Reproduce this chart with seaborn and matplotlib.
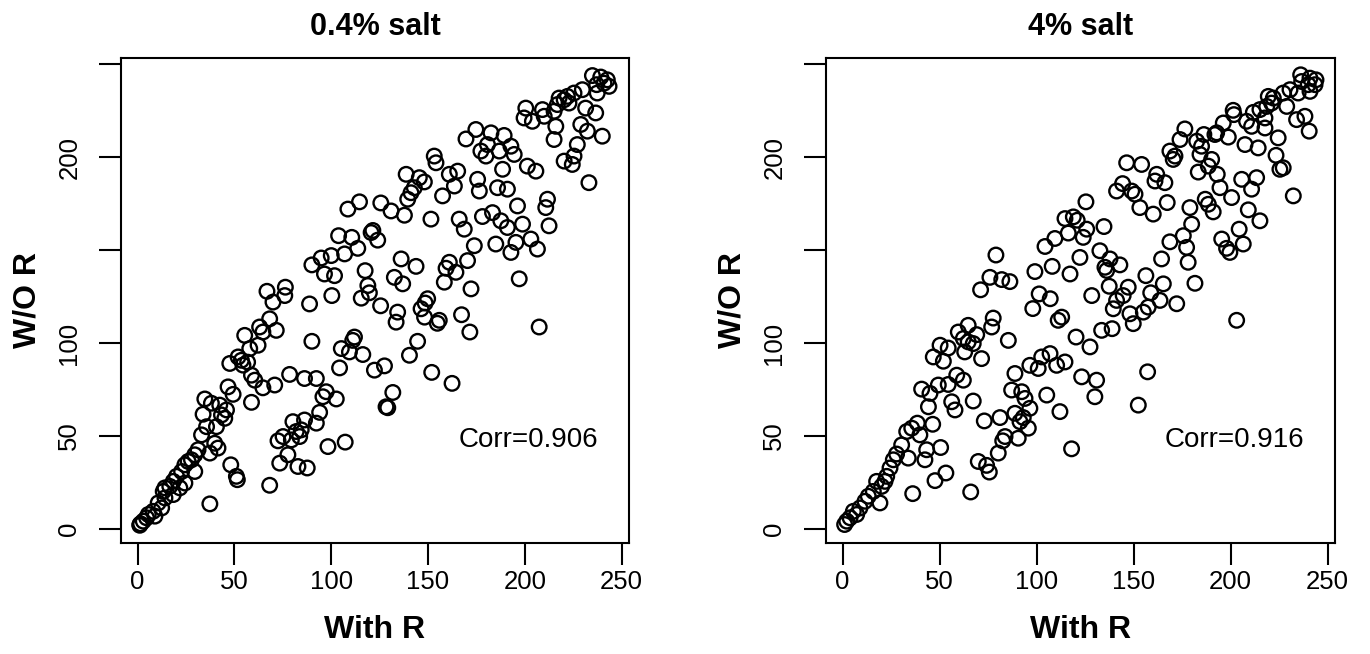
import numpy as np
import pandas as pd
import matplotlib
matplotlib.use("Agg")
import matplotlib.pyplot as plt
import seaborn as sns

# === data: (With R, W/O R) ===
low_salt = [
    (234.9, 243.8), (239.2, 243.0), (242.6, 241.5), (243.5, 238.0), (240.9, 239.7), (237.1, 238.9),
    (237.4, 234.4), (229.7, 236.2), (225.4, 234.4), (222.0, 232.6), (220.3, 230.8), (217.7, 231.7),
    (222.8, 229.0), (216.8, 228.2), (231.4, 226.3), (236.6, 223.7), (215.1, 224.6), (200.5, 226.3),
    (209.1, 225.5), (199.6, 221.0), (203.9, 219.2), (210.0, 221.9), (216.0, 216.5), (215.1, 209.4),
    (228.9, 217.5), (232.3, 213.9), (240.0, 211.2), (227.1, 206.7), (225.4, 200.5), (220.3, 197.8),
    (224.5, 196.0), (233.1, 186.2),
    (174.7, 214.8), (169.6, 209.7), (182.5, 213.0), (189.3, 211.6), (180.7, 206.7), (177.3, 203.2),
    (179.9, 200.5), (186.8, 203.2), (192.8, 205.8), (194.5, 201.4), (188.5, 193.4), (201.3, 195.1),
    (205.7, 192.4), (153.2, 200.5), (154.1, 196.9), (138.7, 190.7), (145.5, 188.9), (148.1, 186.6),
    (142.9, 183.5), (141.2, 180.8), (139.5, 177.3), (161.0, 190.7), (165.3, 192.4), (163.6, 184.4),
    (157.5, 179.1), (175.6, 188.0), (176.5, 181.7), (185.9, 183.5), (191.0, 182.7), (125.6, 175.3),
    (130.9, 171.0), (137.8, 168.7), (151.5, 166.6), (166.1, 166.6), (168.7, 161.2), (178.1, 168.0),
    (183.3, 170.1), (187.6, 165.7), (191.0, 162.1), (196.2, 173.7), (198.8, 163.9), (211.7, 177.3),
    (210.8, 172.8), (212.5, 163.0), (173.9, 152.3), (185.0, 153.2), (192.8, 148.7), (195.4, 154.1),
    (203.1, 155.9), (206.5, 150.5), (136.1, 145.2), (143.8, 141.2), (161.0, 143.4), (159.3, 140.2),
    (164.4, 138.0), (170.4, 144.3), (132.6, 135.3), (136.9, 131.8), (158.4, 132.7), (172.2, 129.1),
    (197.1, 134.5), (149.8, 123.8), (148.5, 121.5),
    (114.6, 175.9), (108.6, 172.0), (103.8, 157.7), (110.6, 156.8), (113.7, 150.9), (106.9, 147.9),
    (100.0, 147.0), (94.8, 145.7), (90.0, 142.0), (96.5, 137.1), (101.7, 136.2), (120.6, 159.4),
    (121.5, 160.5), (124.0, 155.3), (117.5, 138.9), (118.9, 130.9), (119.7, 127.0), (115.5, 124.1),
    (100.3, 125.5), (76.3, 130.0), (66.8, 127.8), (76.0, 125.5), (69.9, 122.0), (88.8, 121.0),
    (125.5, 120.0),
    (68.2, 113.0), (63.0, 108.6), (71.6, 106.8), (55.3, 104.1), (64.7, 105.9), (62.2, 98.8),
    (57.9, 97.0), (90.0, 100.9), (112.0, 103.2), (111.1, 101.4), (105.2, 97.0), (109.4, 95.2),
    (116.3, 93.8), (127.5, 87.7), (122.3, 85.4), (104.3, 86.6), (47.6, 89.0), (51.9, 92.5),
    (53.6, 90.7), (56.8, 89.7), (54.4, 88.1), (58.8, 82.7), (60.5, 80.0), (64.7, 75.9),
    (70.8, 77.4), (58.8, 68.1), (46.7, 76.4), (49.3, 72.4), (78.5, 83.1), (86.2, 80.9),
    (92.3, 80.9), (97.4, 73.8), (95.7, 71.1), (102.6, 69.9), (94.0, 62.7), (92.3, 56.9),
    (34.7, 69.9), (38.1, 67.6), (42.4, 66.6), (45.9, 64.0), (43.3, 61.3), (33.8, 61.7),
    (45.0, 59.5), (35.6, 55.0), (40.7, 55.0), (33.0, 50.6), (39.8, 46.1), (41.5, 43.5),
    (37.3, 40.8), (31.2, 42.6), (29.5, 39.9), (27.8, 37.2), (26.1, 36.3), (24.4, 34.5),
    (22.7, 30.9), (29.5, 30.9), (20.1, 28.3), (18.4, 25.6), (24.4, 24.7), (21.8, 22.1),
    (16.6, 22.9), (14.1, 22.1), (13.2, 20.2), (18.4, 18.5), (14.1, 16.7), (10.6, 14.0),
    (12.4, 11.3), (8.0, 9.5), (5.5, 7.8), (4.6, 6.0), (8.9, 6.9), (2.9, 4.2),
    (1.2, 2.4), (1.1, 2.0), (1.5, 2.8),
    (37.3, 13.5), (48.1, 34.5), (51.0, 28.3), (51.5, 26.5), (68.2, 23.5), (72.5, 47.4),
    (75.1, 49.7), (77.6, 39.9), (73.4, 35.4), (80.2, 57.7), (81.9, 52.4), (84.5, 53.3),
    (86.2, 58.6), (79.4, 47.9), (83.7, 49.7), (82.8, 33.6), (87.6, 32.8), (98.3, 44.3),
    (107.2, 46.7),
    (134.3, 116.6), (133.5, 111.2), (146.4, 118.4), (148.2, 113.9), (155.8, 112.2), (154.8, 110.6),
    (167.3, 115.2), (171.6, 105.9), (207.4, 108.6), (144.6, 100.9), (140.4, 93.4), (151.9, 84.2),
    (162.4, 78.3), (131.8, 73.4), (129.2, 65.2), (128.3, 65.7),
]

high_salt = [
    (236.1, 244.2), (240.9, 242.4), (244.0, 241.5), (243.5, 238.9), (240.0, 238.9), (236.6, 240.6),
    (240.9, 235.3), (234.8, 234.4), (230.6, 236.2), (227.1, 234.4), (222.0, 231.7), (219.4, 232.6),
    (221.1, 229.0), (218.6, 227.2), (228.9, 227.2), (215.1, 225.5), (211.7, 224.0), (217.7, 221.0),
    (208.2, 219.2), (210.8, 216.5), (217.7, 215.6), (201.3, 225.1), (201.7, 222.8), (196.2, 218.3),
    (192.8, 213.0), (198.8, 210.7), (234.0, 220.1), (238.3, 221.9), (240.5, 213.9), (224.5, 210.3),
    (207.4, 206.7), (214.2, 204.9), (223.4, 200.9), (225.4, 193.4), (227.1, 194.2), (232.3, 179.1),
    (176.4, 215.1), (173.9, 209.4), (168.7, 203.2), (171.3, 200.5), (170.4, 198.7), (182.5, 208.5),
    (186.2, 212.1), (191.9, 212.1), (185.0, 205.8), (184.2, 201.4), (190.2, 198.7), (188.5, 195.1),
    (183.3, 191.9), (193.1, 190.7), (194.5, 183.5), (205.7, 188.0), (213.4, 188.9), (210.8, 182.7),
    (200.5, 178.2), (146.4, 196.9), (154.1, 196.0), (161.9, 190.7), (161.0, 187.1), (166.1, 186.2),
    (144.3, 185.7), (141.2, 181.7), (149.0, 181.7), (150.7, 180.0), (153.2, 172.8), (160.1, 169.3),
    (167.3, 175.5), (179.0, 172.8), (186.9, 177.3), (188.5, 174.6), (191.0, 170.5), (209.1, 171.6),
    (215.1, 165.7), (179.9, 163.9), (175.6, 157.7), (168.7, 154.4), (177.3, 151.4), (178.1, 143.4),
    (204.4, 161.2), (195.4, 155.9), (197.9, 150.9), (199.6, 148.7), (206.5, 153.2), (134.7, 162.6),
    (132.6, 149.6), (137.8, 145.2), (135.2, 140.7), (136.1, 139.0), (142.9, 142.0), (164.4, 145.2),
    (156.3, 136.2), (165.3, 131.8), (158.8, 127.0), (181.6, 132.1), (137.4, 130.5), (147.2, 130.0),
    (144.6, 125.5), (141.2, 122.9), (163.6, 122.9), (172.2, 121.1),
    (125.4, 175.9), (114.6, 166.9), (118.9, 167.8), (120.9, 166.0), (125.8, 161.2), (116.3, 159.1),
    (124.0, 156.8), (109.4, 156.2), (104.3, 151.9), (79.0, 147.3), (122.3, 146.0), (108.0, 141.2),
    (99.1, 138.4), (117.2, 137.1), (75.9, 135.3), (82.0, 134.1), (86.2, 133.0), (71.1, 128.6),
    (101.3, 126.4), (107.0, 123.8), (98.0, 118.5), (128.4, 125.5),
    (77.6, 113.4), (76.8, 108.6), (85.4, 101.4), (64.7, 109.5), (69.1, 104.5), (59.6, 105.9),
    (62.2, 102.4), (64.7, 100.6), (67.3, 99.7), (62.9, 95.2), (71.6, 91.6), (50.2, 98.8),
    (54.4, 97.3), (46.7, 92.5), (51.9, 90.2), (58.8, 82.7), (54.4, 77.7), (62.2, 80.0),
    (49.3, 77.4), (45.0, 72.9), (40.7, 75.2), (44.2, 65.7), (56.2, 68.4), (57.9, 64.0),
    (67.3, 68.8), (38.5, 56.9), (35.6, 54.2), (33.0, 52.4), (39.8, 50.6), (46.4, 56.3),
    (30.4, 45.2), (27.8, 40.3), (33.8, 38.1), (43.3, 42.6), (42.4, 37.2), (50.5, 43.8),
    (26.1, 37.2), (24.4, 32.8), (22.7, 28.3), (21.8, 25.6), (17.5, 25.6), (20.1, 22.9),
    (15.8, 20.2), (13.2, 17.6), (11.5, 14.9), (19.2, 14.0), (8.9, 11.3), (5.5, 9.5),
    (7.2, 7.8), (3.8, 6.0), (2.1, 4.2), (1.0, 2.4),
    (36.1, 19.0), (47.6, 26.0), (53.2, 30.1), (66.0, 19.9), (69.9, 36.3), (74.2, 34.2),
    (75.6, 30.6), (73.0, 58.1), (81.1, 59.9), (80.2, 40.8), (83.7, 49.7), (82.5, 47.4),
    (88.8, 83.6), (87.1, 74.7), (92.3, 73.8), (94.0, 70.2), (96.5, 64.9), (93.1, 59.9),
    (91.4, 57.7), (88.8, 62.2), (95.7, 54.2), (90.5, 48.8), (96.5, 88.0), (100.8, 86.3),
    (102.6, 92.5), (106.9, 94.3), (110.3, 88.0), (114.6, 89.8), (105.2, 72.0), (112.0, 63.1),
    (118.0, 43.1), (111.1, 112.2), (112.9, 113.9), (120.3, 103.2), (127.5, 97.9), (123.2, 81.8),
    (130.0, 71.1),
    (139.5, 118.4), (148.1, 115.7), (149.8, 110.4), (155.0, 116.6), (157.5, 119.3), (203.1, 112.2),
    (133.5, 106.8), (138.9, 107.7), (130.9, 80.0), (157.2, 84.5), (152.4, 66.6),
]

titles = ["0.4% salt", "4% salt"]
corrs = ["0.906", "0.916"]
x_ticks = [0, 50, 100, 150, 200, 250]
y_ticks = [0, 50, 100, 150, 200, 250]
y_tick_labels = ["0", "50", "100", "", "200", ""]

# === style ===
sns.set_theme(style="ticks")
plt.rcParams["font.family"] = ["Liberation Sans", "DejaVu Sans"]
plt.rcParams["text.color"] = "black"
plt.rcParams["axes.labelcolor"] = "black"
plt.rcParams["xtick.color"] = "black"
plt.rcParams["ytick.color"] = "black"

fig = plt.figure(figsize=(13.7, 6.54), dpi=100)
W, H = 1370, 654
ax_l = fig.add_axes([121 / W, 1 - 543.3 / H, 508 / W, 485.6 / H])
ax_r = fig.add_axes([826 / W, 1 - 543.3 / H, 509 / W, 485.6 / H])

for ax, title, pts, corr in zip([ax_l, ax_r], titles, [low_salt, high_salt], corrs):
    df = pd.DataFrame(pts, columns=["With R", "W/O R"])
    sns.scatterplot(data=df, x="With R", y="W/O R", ax=ax, s=110, marker="o",
                    fc="none", ec="black", linewidth=1.7)
    ax.set_xlim(-8.6, 253.8)
    ax.set_ylim(-7.7, 253.4)
    ax.set_xticks(x_ticks)
    ax.set_xticklabels([str(t) for t in x_ticks])
    ax.set_yticks(y_ticks)
    ax.set_yticklabels(y_tick_labels, rotation=90, va="center")
    ax.tick_params(direction="out", length=15.5, width=1.5, labelsize=18.5,
                   colors="black", labelcolor="black")
    ax.tick_params(axis="x", pad=4)
    ax.tick_params(axis="y", pad=13)
    for sp in ax.spines.values():
        sp.set_linewidth(1.5)
        sp.set_color("black")
        sp.set_visible(True)

    ax.set_xlabel("With R", fontsize=23, fontweight="bold", va="center", color="black")
    ax.xaxis.set_label_coords(0.5, (543.3 - 630) / 485.6)
    ax.set_ylabel("W/O R", fontsize=23, fontweight="bold", va="center", color="black")
    ax.yaxis.set_label_coords((28 - 121) / 508, 0.5)
    ax.set_title(title, fontsize=22, fontweight="bold", pad=16, color="black")
    ax.text(202, 48, f"Corr={corr}", fontsize=20, ha="center", va="center", color="black")

fig.savefig("out.png", dpi=100)
